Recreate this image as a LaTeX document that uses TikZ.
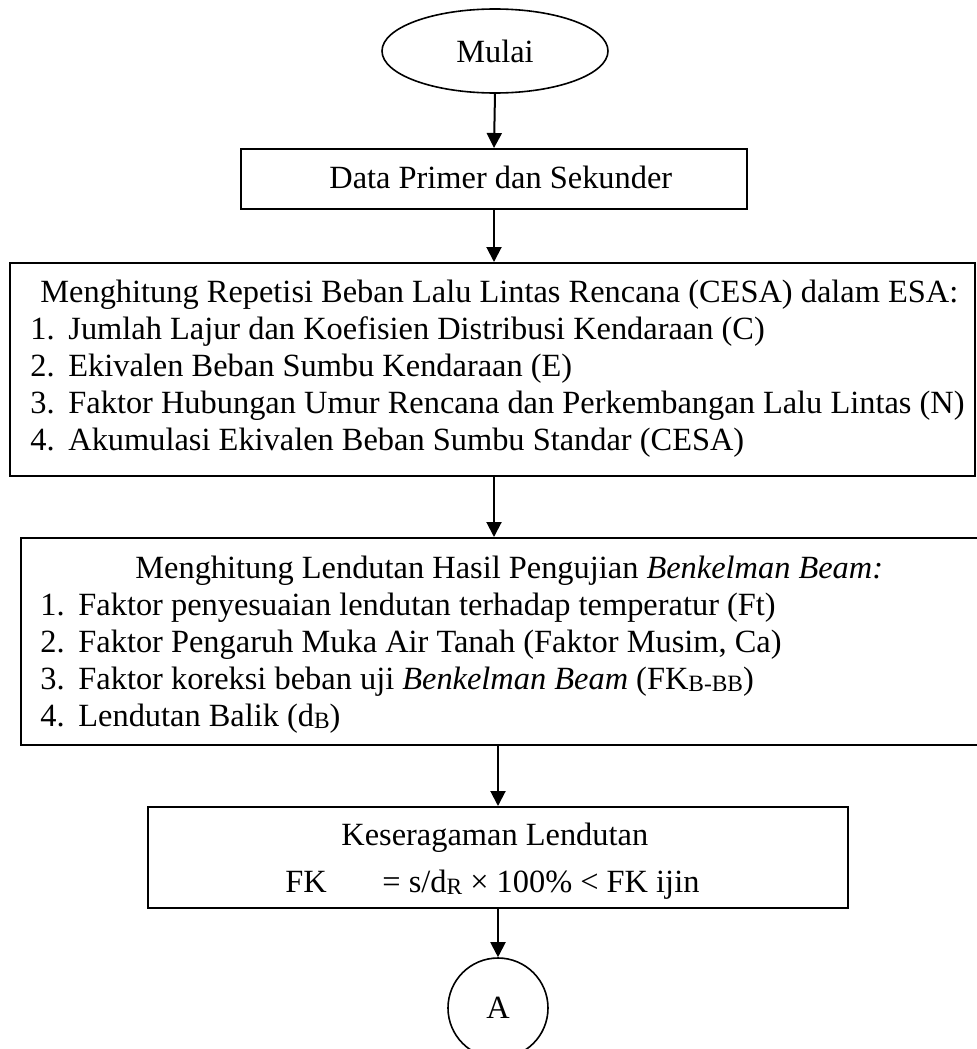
\documentclass[tikz,border=0pt]{standalone}
\usepackage{fontspec}
\setmainfont{Liberation Serif}
\usetikzlibrary{shapes.geometric,arrows.meta}
\newcommand{\lowsub}[1]{\raisebox{-1.2pt}{\fontsize{11.7}{11.7}\selectfont #1}}
\begin{document}
\begin{tikzpicture}[x=0.5pt,y=-0.5pt,
  every node/.style={font=\fontsize{16.2}{20}\selectfont},
  box/.style={draw,line width=1pt,rectangle,inner sep=0pt},
  txt/.style={anchor=base west,inner sep=0pt},
  flow/.style={line width=1pt,-{Triangle[length=7.5pt,width=7.5pt]}}]
\useasboundingbox (0,0) rectangle (977,1049);
% start terminal
\node[draw,line width=0.8pt,ellipse,minimum width=113pt,minimum height=42pt,inner sep=0pt] (mulai) at (495,51) {Mulai};
% data input
\node[box,minimum width=253pt,minimum height=30pt] (data) at (494,179) {};
\node[txt] (dtxt) at (329,188) {Data Primer dan Sekunder};
% traffic load repetition
\node[box,minimum width=482.75pt,minimum height=106.5pt] (cesa) at (492.25,369.5) {};
\node[txt] (c0) at (40,302) {Menghitung Repetisi Beban Lalu Lintas Rencana (CESA) dalam ESA:};
\node[txt] (c1n) at (30,339) {1.};
\node[txt] (c1) at (68,339) {Jumlah Lajur dan Koefisien Distribusi Kendaraan (C)};
\node[txt] (c2n) at (30,376) {2.};
\node[txt] (c2) at (68,376) {Ekivalen Beban Sumbu Kendaraan (E)};
\node[txt] (c3n) at (30,413) {3.};
\node[txt] (c3) at (68,413) {Faktor Hubungan Umur Rencana dan Perkembangan Lalu Lintas (N)};
\node[txt] (c4n) at (30,450) {4.};
\node[txt] (c4) at (68,450) {Akumulasi Ekivalen Beban Sumbu Standar (CESA)};
% deflection
\node[box,minimum width=485pt,minimum height=103.5pt] (lend) at (505.5,641.5) {};
\node[txt] (l0) at (135,578) {Menghitung Lendutan Hasil Pengujian \textit{Benkelman Beam:}};
\node[txt] (l1n) at (40,615) {1.};
\node[txt] (l1) at (78,615) {Faktor penyesuaian lendutan terhadap temperatur (Ft)};
\node[txt] (l2n) at (40,652) {2.};
\node[txt] (l2) at (78,652) {Faktor Pengaruh Muka Air Tanah (Faktor Musim, Ca)};
\node[txt] (l3n) at (40,689) {3.};
\node[txt] (l3) at (78,689) {Faktor koreksi beban uji \textit{Benkelman Beam} (FK\lowsub{B-BB})};
\node[txt] (l4n) at (40,726) {4.};
\node[txt] (l4) at (78,726) {Lendutan Balik (d\lowsub{B})};
% uniformity
\node[box,minimum width=350pt,minimum height=50.5pt] (ser) at (498,857.5) {};
\node[txt] (s0) at (341,845) {Keseragaman Lendutan};
\node[txt] (s1) at (285,892) {FK};
\node[txt] (s2) at (382,892) {= s/d\lowsub{R} × 100\% < FK ijin};
% connector
\node[draw,line width=0.8pt,circle,minimum size=50pt,inner sep=0pt] (A) at (498,1008) {A};
% flow lines
\draw[flow] (mulai.south) -- (data.north);
\draw[flow] (data.south) -- (data.south |- cesa.north);
\draw[flow] (data.south |- cesa.south) -- (data.south |- lend.north);
\draw[flow] (ser.north |- lend.south) -- (ser.north);
\draw[flow] (ser.south) -- (A.north);
\end{tikzpicture}
\end{document}
